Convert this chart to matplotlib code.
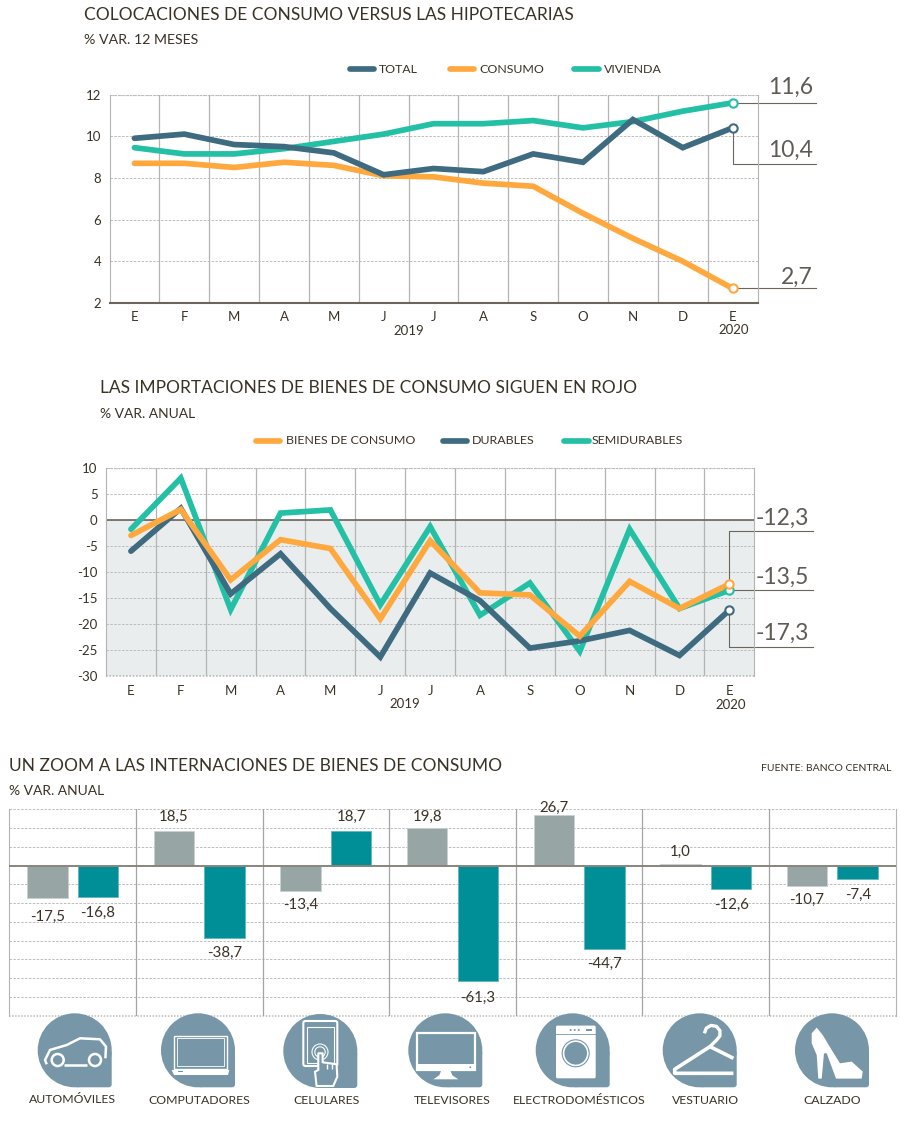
import numpy as np
import matplotlib
matplotlib.use("Agg")
import matplotlib.pyplot as plt
from matplotlib.patches import Circle, FancyBboxPatch, Polygon, Rectangle

plt.rcParams['font.family'] = ['Lato', 'DejaVu Sans']

months = ["E", "F", "M", "A", "M", "J", "J", "A", "S", "O", "N", "D", "E"]

# chart 1
total = [9.9, 10.1, 9.6, 9.5, 9.2, 8.15, 8.45, 8.3, 9.15, 8.75, 10.8, 9.45, 10.4]
consumo = [8.7, 8.7, 8.5, 8.75, 8.6, 8.1, 8.05, 7.75, 7.6, 6.3, 5.1, 4.0, 2.7]
vivienda = [9.45, 9.15, 9.15, 9.4, 9.75, 10.1, 10.6, 10.6, 10.75, 10.4, 10.7, 11.2, 11.6]
ticks1 = [2, 4, 6, 8, 10, 12]

# chart 2
bienes = [-3, 2, -11.5, -3.8, -5.5, -19, -4, -14, -14.4, -22.3, -11.8, -17, -12.3]
durables = [-6, 2.2, -14.2, -6.5, -17, -26.3, -10.2, -15.5, -24.6, -23.2, -21.2, -26, -17.3]
semidurables = [-1.8, 8, -17.2, 1.3, 1.9, -16.3, -1.3, -18.3, -12.1, -25.2, -1.8, -17, -13.5]
ticks2 = [-30, -25, -20, -15, -10, -5, 0, 5, 10]

# chart 3
categorias = ["AUTOMÓVILES", "COMPUTADORES", "CELULARES", "TELEVISORES",
              "ELECTRODOMÉSTICOS", "VESTUARIO", "CALZADO"]
serie_gris = [-17.5, 18.5, -13.4, 19.8, 26.7, 1.0, -10.7]
serie_teal = [-16.8, -38.7, 18.7, -61.3, -44.7, -12.6, -7.4]
nudge_gris = [18, 14, 14, 12, 8, 12, 14]
nudge_teal = [16, 15, 14, 17, 14, 16, 15]

NAVY = "#3e6b80"
ORANGE = "#ffa83e"
GREEN = "#24c0a6"
INK = "#3a3226"
AXIS = "#6b655c"
CALLOUT = "#5f5b56"
VGRID = "#b4b4b4"
HGRID = "#bcbcbc"
ICON = "#7797a9"
W, H = 900, 1122
TICK_FS = 9.5
TITLE_FS = 12.5
LEG_FS = 8.9
CALL_FS = 16.5


def px_axes(fig, left, top, right, bottom):
    return fig.add_axes([left / W, 1 - bottom / H, (right - left) / W, (bottom - top) / H])


def line_chart(ax, ylim, ticks, series):
    ax.set_xlim(-0.5, 12.5)
    ax.set_ylim(*ylim)
    ax.patch.set_alpha(0)
    ax.set_yticks(ticks)
    ax.set_yticklabels([str(t) for t in ticks], fontsize=TICK_FS, color=INK)
    ax.set_xticks(range(13))
    ax.set_xticklabels(months, fontsize=TICK_FS, color=INK)
    ax.tick_params(length=0, pad=6)
    for t in ticks:
        ax.axhline(t, color=HGRID, lw=0.7, ls=(0, (2.5, 1.5)), zorder=1)
    for k in range(1, 13):
        ax.axvline(k - 0.5, color=VGRID, lw=0.9, zorder=1)
    ax.spines["top"].set_visible(False)
    for s in ["left", "right"]:
        ax.spines[s].set_color(VGRID)
    ax.spines["bottom"].set_color(AXIS)
    for values, color in series:
        ax.plot(range(13), values, color=color, lw=4.1, solid_capstyle="round",
                solid_joinstyle="miter", zorder=3)
        ax.plot(12, values[-1], "o", ms=6, mfc="white", mec=color, mew=1.5, zorder=5)
    ax.text(5.5, -0.132, "2019", transform=ax.get_xaxis_transform(), ha="center", va="center",
            fontsize=TICK_FS, color=INK)


def callout(ax, xs, ys, label, lx, ly):
    ax.plot(xs, ys, color=AXIS, lw=0.8, clip_on=False, zorder=2)
    ax.text(lx, ly, label, fontsize=CALL_FS, color=CALLOUT, ha="right", va="center")


def legend(ov, y, items):
    for x0, x1, tx, label, color in items:
        ov.plot([x0, x1], [y, y], color=color, lw=4.1, solid_capstyle="round")
        ov.text(tx, y, label, fontsize=LEG_FS, color=INK, va="center")


def icon_base(ov, x, y):
    ov.add_patch(Circle((x + 37, y + 37), 37, fc=ICON, ec="none"))
    ov.add_patch(FancyBboxPatch((x + 40, y + 40), 31, 31, boxstyle="round,pad=3,rounding_size=3",
                                fc=ICON, ec="none"))


def stroke(ov, x, y, pts, lw=1.6, closed=False, fc="none"):
    pts = np.array(pts, dtype=float) + [x, y]
    ov.add_patch(Polygon(pts, closed=closed, fc=fc, ec="white", lw=lw, joinstyle="round"))


def icon_car(ov, x, y):
    icon_base(ov, x, y)
    stroke(ov, x, y, [(9, 51), (7.3, 46.7), (12.3, 36.7), (29, 31.7), (42.3, 25), (62.3, 26),
                      (68.3, 33.3), (67.7, 45)], lw=1.8)
    stroke(ov, x, y, [(26.3, 51.7), (49.7, 51.7)], lw=1.8)
    for cx in (20, 57.3):
        ov.add_patch(Circle((x + cx, y + 46.7), 6, fc=ICON, ec="white", lw=1.8))


def icon_laptop(ov, x, y):
    icon_base(ov, x, y)
    ov.add_patch(Rectangle((x + 13, y + 22.3), 52.7, 33, fc="none", ec="white", lw=1))
    ov.add_patch(Rectangle((x + 15.5, y + 25), 47.5, 27.5, fc="none", ec="white", lw=0.6))
    ov.add_patch(Polygon(np.array([(10.7, 56.7), (68.3, 56.7), (67, 61.7), (13, 61.7)]) + [x, y],
                         fc="white", ec="none"))
    ov.add_patch(Rectangle((x + 17, y + 57.5), 5, 1.6, fc="#35a7d8", ec="none"))


def icon_phone(ov, x, y):
    icon_base(ov, x, y)
    ov.add_patch(FancyBboxPatch((x + 20, y + 7), 34, 45, boxstyle="round,pad=0,rounding_size=2",
                                fc=ICON, ec="white", lw=1.5))
    ov.add_patch(Rectangle((x + 23.5, y + 12.5), 27, 36, fc="none", ec="white", lw=0.8))
    for r in (8, 5.2):
        ov.add_patch(Circle((x + 36.7, y + 38), r, fc="none", ec="white", lw=0.8))
    stroke(ov, x, y, [(35, 39.3), (39.3, 39.3), (39.3, 48.3), (53.3, 50.3), (54, 62.7), (50, 72),
                      (33.3, 72), (31.7, 57.7), (35, 56)], lw=1.5, closed=True, fc=ICON)
    for fx in (44, 49):
        stroke(ov, x, y, [(fx, 50), (fx, 55)], lw=1)


def icon_tv(ov, x, y):
    icon_base(ov, x, y)
    ov.add_patch(Rectangle((x + 8.3, y + 19.3), 58.4, 37.4, fc=ICON, ec="white", lw=1.6))
    ov.add_patch(Rectangle((x + 8.3, y + 51), 58.4, 5.7, fc="white", ec="none"))
    ov.add_patch(Circle((x + 62, y + 54), 0.9, fc=ICON, ec="none"))
    ov.add_patch(Polygon(np.array([(33, 57), (42, 57), (44, 62), (50, 66), (25, 66), (31, 62)]) + [x, y],
                         fc="white", ec="none"))


def icon_washer(ov, x, y):
    icon_base(ov, x, y)
    ov.add_patch(FancyBboxPatch((x + 20.3, y + 12.3), 39.7, 52.7, boxstyle="round,pad=0,rounding_size=1.5",
                                fc="white", ec="none"))
    ov.plot([x + 20.3, x + 60], [y + 21, y + 21], color=ICON, lw=0.6)
    for dx in (35, 39, 43):
        ov.add_patch(Circle((x + dx, y + 16.7), 1, fc=ICON, ec="none"))
    ov.add_patch(Rectangle((x + 50, y + 15.5), 6, 2.4, fc=ICON, ec="none"))
    ov.add_patch(Circle((x + 40, y + 40), 13.5, fc="white", ec=ICON, lw=0.8))
    ov.add_patch(Circle((x + 40, y + 40), 11.3, fc=ICON, ec="none"))


def icon_hanger(ov, x, y):
    icon_base(ov, x, y)
    a = np.radians([180, 220, 260, 300, 340, 380, 420])
    hook = [(49.7 + 8 * np.cos(t), 20 + 8 * np.sin(t)) for t in a] + [(47.3, 33.3)]
    stroke(ov, x, y, hook, lw=2.4)
    stroke(ov, x, y, [(70.7, 45), (47.3, 33.3), (12, 56), (12, 60), (15, 60), (70.7, 60)], lw=2.6)


def icon_shoe(ov, x, y):
    icon_base(ov, x, y)
    pts = np.array([(21.7, 14.3), (27.7, 21.7), (36.7, 36.7), (45, 50), (56.7, 48.3), (67.7, 58.3),
                    (66.7, 65.3), (41, 65.3), (31.7, 40), (29, 40), (26.7, 65.3), (23.3, 65.3),
                    (21.7, 41.7), (16.7, 30), (16.7, 20)]) + [x, y]
    ov.add_patch(Polygon(pts, fc="white", ec="none"))


fig = plt.figure(figsize=(W / 100, H / 100), dpi=100, facecolor="white")

# --- colocaciones
ax1 = px_axes(fig, 109.5, 94.5, 757.5, 303)
line_chart(ax1, (2, 12), ticks1, [(consumo, ORANGE), (vivienda, GREEN), (total, NAVY)])
ax1.spines["bottom"].set_linewidth(1.5)
ax1.axhline(12, color=HGRID, lw=0.9, ls=(0, (1, 1)), zorder=1)
callout(ax1, [12, 13.68], [11.6, 11.6], "11,6", 13.61, 12.32)
callout(ax1, [12, 12, 13.68], [10.4, 8.65, 8.65], "10,4", 13.61, 9.33)
callout(ax1, [12, 13.68], [2.7, 2.7], "2,7", 13.61, 3.23)

# --- importaciones
ax2 = px_axes(fig, 106, 467.7, 754.3, 676.3)
ax2.axhspan(-30, 0, color="#e9eded", zorder=0)
line_chart(ax2, (-30, 10), ticks2, [(semidurables, GREEN), (durables, NAVY), (bienes, ORANGE)])
ax2.axhline(0, color=AXIS, lw=1.2, zorder=2)
ax2.axhline(10, color=HGRID, lw=0.9, ls=(0, (1, 1)), zorder=1)
ax2.spines["bottom"].set_visible(False)
ax2.axhline(-30, color=HGRID, lw=1.2, ls=(0, (1, 1)), zorder=1, clip_on=False)
callout(ax2, [12, 12, 13.68], [-12.3, -2.2, -2.2], "-12,3", 13.6, 0.3)
callout(ax2, [12, 13.68], [-13.5, -13.5], "-13,5", 13.6, -11.05)
callout(ax2, [12, 12, 13.68], [-17.3, -24.4, -24.4], "-17,3", 13.6, -21.85)

# --- internaciones
ax3 = px_axes(fig, 9.3, 809.3, 895.7, 1015.7)
ax3.set_xlim(-0.5, 6.5)
ax3.set_ylim(-80, 30)
ax3.patch.set_alpha(0)
ax3.set_xticks([])
ax3.set_yticks([])
for s in ["top", "bottom"]:
    ax3.spines[s].set_visible(False)
for s in ["left", "right"]:
    ax3.spines[s].set_color(VGRID)
for t in np.arange(-70, 31, 10):
    if t != 0:
        ax3.axhline(t, color=HGRID, lw=0.7, ls=(0, (2.5, 1.5)), zorder=1)
ax3.axhline(-80, color=HGRID, lw=1.1, ls=(0, (1, 1)), zorder=1, clip_on=False)
for k in range(1, 7):
    ax3.axvline(k - 0.5, color="#a4a4a4", lw=0.9, zorder=1)
xpos = np.arange(7)
ax3.bar(xpos - 0.2, serie_gris, width=0.32, color="#98a5a5", edgecolor="#c8d0d0", lw=0.6, zorder=2)
ax3.bar(xpos + 0.2, serie_teal, width=0.32, color="#008f96", edgecolor="#5fb8bb", lw=0.6, zorder=2)
ax3.axhline(0, color="#88857d", lw=1.4, zorder=3)
for offs, vals, nudges in [(-0.2, serie_gris, nudge_gris), (0.2, serie_teal, nudge_teal)]:
    for i, v in enumerate(vals):
        d = nudges[i] if v > 0 else -nudges[i]
        ax3.annotate(f"{v:.1f}".replace(".", ","), (i + offs, v), xytext=(0, d),
                     textcoords="offset pixels", ha="center", va="center", fontsize=10.8, color=INK,
                     annotation_clip=False, zorder=4)

# --- overlay in pixels: titles, legends, icons
ov = fig.add_axes([0, 0, 1, 1], zorder=10)
ov.set_xlim(0, W)
ov.set_ylim(H, 0)
ov.axis("off")
ov.patch.set_alpha(0)

ov.text(84, 15, "COLOCACIONES DE CONSUMO VERSUS LAS HIPOTECARIAS", fontsize=TITLE_FS, color=INK, va="center")
ov.text(84, 40, "% VAR. 12 MESES", fontsize=10.2, color=INK, va="center")
ov.text(100, 388, "LAS IMPORTACIONES DE BIENES DE CONSUMO SIGUEN EN ROJO", fontsize=TITLE_FS, color=INK, va="center")
ov.text(100, 414, "% VAR. ANUAL", fontsize=10, color=INK, va="center")
ov.text(9, 766, "UN ZOOM A LAS INTERNACIONES DE BIENES DE CONSUMO", fontsize=TITLE_FS, color=INK, va="center")
ov.text(9, 790.5, "% VAR. ANUAL", fontsize=10, color=INK, va="center")
ov.text(891, 768, "FUENTE: BANCO CENTRAL", fontsize=7.5, color=INK, ha="right", va="center")

legend(ov, 69, [(350, 374, 379, "TOTAL", NAVY), (450, 474, 479, "CONSUMO", ORANGE),
                (574, 599, 603.5, "VIVIENDA", GREEN)])
legend(ov, 440.7, [(256, 280, 285.7, "BIENES DE CONSUMO", ORANGE), (443, 467, 471.6, "DURABLES", NAVY),
                   (564, 589, 592, "SEMIDURABLES", GREEN)])

ov.text(733.5, 330, "2020", fontsize=TICK_FS, color=INK, ha="center", va="center")
ov.text(730.7, 704.5, "2020", fontsize=TICK_FS, color=INK, ha="center", va="center")

icon_car(ov, 37.7, 1013.3)
icon_laptop(ov, 161, 1013.3)
icon_phone(ov, 283.3, 1014)
icon_tv(ov, 408.3, 1013.3)
icon_washer(ov, 535.7, 1013.3)
icon_hanger(ov, 662.7, 1013.3)
icon_shoe(ov, 795, 1013.3)

label_x = [72.5, 199, 326, 452.5, 579, 705.7, 832]
label_y = [1099.3, 1101, 1101, 1100, 1101, 1101, 1100]
for name, lx, ly in zip(categorias, label_x, label_y):
    ov.text(lx, ly, name, fontsize=8.8, color=INK, ha="center", va="center")

fig.savefig("out.png", dpi=100)
